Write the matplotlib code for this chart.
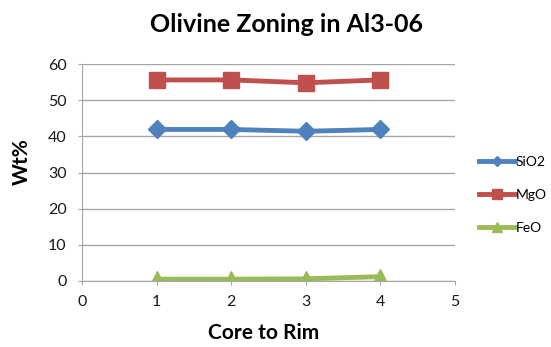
import matplotlib
matplotlib.use("Agg")
import matplotlib.pyplot as plt

plt.rcParams['font.family'] = ['Lato', 'DejaVu Sans']

# datos
points = [1, 2, 3, 4]
sio2 = [41.9, 41.9, 41.4, 41.9]
mgo = [55.6, 55.6, 54.8, 55.6]
feo = [0.5, 0.5, 0.6, 1.2]

W, H = 551, 347
fig = plt.figure(figsize=(W / 100, H / 100), dpi=100)
# caja del grafico en pixeles: x 82..455, y 64..281
ax = fig.add_axes([82 / W, 1 - 281 / H, 373 / W, 217 / H])

ax.plot(points, sio2, color="#4F81BD", lw=3.5, marker="D", ms=9, label="SiO2")
ax.plot(points, mgo, color="#C0504D", lw=3.5, marker="s", ms=11, label="MgO")
ax.plot(points, feo, color="#9BBB59", lw=3.5, marker="^", ms=12, label="FeO")

ax.set_xlim(0, 5)
ax.set_ylim(0, 60)
ax.set_xticks(range(0, 6))
ax.set_yticks(range(0, 61, 10))
ax.grid(axis="y", color="#a6a6a6", lw=1)
ax.set_axisbelow(True)
for s in ["top", "right"]:
    ax.spines[s].set_visible(False)
ax.spines["bottom"].set_color("#a6a6a6")
ax.spines["left"].set_color("#a6a6a6")
ax.tick_params(axis="both", length=3, color="#a6a6a6", labelsize=11.5,
               direction="out", labelcolor="#1a1a1a")
ax.tick_params(axis="y", pad=8)
ax.tick_params(axis="x", pad=7)

fig.text(286 / W, 1 - 24 / H, "Olivine Zoning in Al3-06", fontsize=18,
         fontweight="bold", ha="center", va="center")
fig.text(264 / W, 1 - 333 / H, "Core to Rim", fontsize=15,
         fontweight="bold", ha="center", va="center")
fig.text(22 / W, 1 - 162 / H, "Wt%", fontsize=15, fontweight="bold",
         ha="center", va="center", rotation=90)

ax.legend(loc="center left", bbox_to_anchor=(466 / W, 1 - 195 / H),
          bbox_transform=fig.transFigure, frameon=False, fontsize=10,
          handlelength=2.6, labelspacing=1.5, handletextpad=0.1,
          markerscale=0.6)

fig.savefig("out.png", dpi=100)
